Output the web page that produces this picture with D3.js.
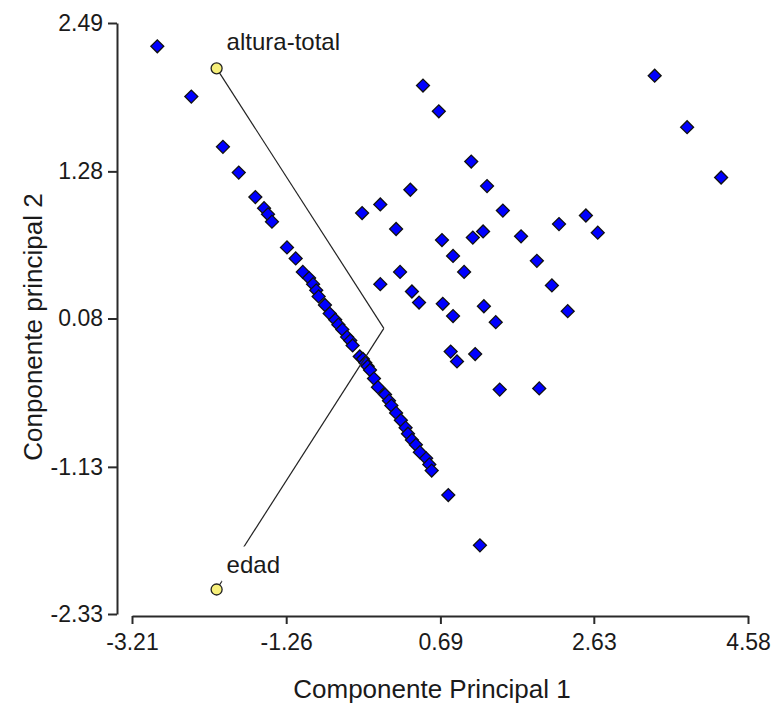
<!DOCTYPE html>
<html>
<head>
<meta charset="utf-8">
<script src="https://cdn.jsdelivr.net/npm/d3@7"></script>
<style>
body{margin:0;background:#fff;}
text{font-family:"Liberation Sans",Arial,sans-serif;fill:#1a1a1a;}
</style>
</head>
<body>
<script>
const w=776;
const h=705;

// scores of the observations on the two components
const pc1=[-2.89,-2.46,-2.06,-1.86,-1.65,-1.54,-1.49,-1.44,-1.25,-1.14,-1.05,-0.97,-0.92,-0.88,-0.85,-0.77,-0.71,-0.64,-0.60,-0.55,-0.49,-0.45,-0.42,-0.33,-0.29,-0.26,-0.23,-0.20,-0.15,-0.10,-0.01,0.04,0.07,0.13,0.19,0.25,0.28,0.33,0.38,0.43,0.51,0.55,0.58,0.79,1.19,
  0.47,0.67,3.40,3.81,4.24,1.08,1.28,0.31,1.48,-0.07,-0.30,2.53,2.19,2.68,0.13,1.71,1.23,1.10,0.71,0.85,1.91,0.18,0.99,-0.07,2.10,0.33,0.42,0.72,1.24,0.85,1.39,2.30,0.82,0.90,1.13,1.44,1.94];
const pc2=[2.30,1.89,1.48,1.27,1.07,0.98,0.93,0.87,0.66,0.57,0.46,0.41,0.36,0.31,0.26,0.19,0.12,0.07,0.03,-0.01,-0.07,-0.10,-0.14,-0.23,-0.25,-0.28,-0.31,-0.34,-0.41,-0.48,-0.54,-0.59,-0.63,-0.69,-0.75,-0.81,-0.86,-0.91,-0.95,-1.01,-1.06,-1.11,-1.16,-1.36,-1.77,
  1.98,1.77,2.06,1.64,1.23,1.36,1.16,1.13,0.96,1.01,0.94,0.92,0.85,0.78,0.81,0.75,0.79,0.74,0.72,0.59,0.55,0.46,0.46,0.36,0.35,0.30,0.21,0.20,0.18,0.10,0.05,0.14,-0.19,-0.27,-0.21,-0.50,-0.49];

// variables (loadings)
const varNames=["altura-total","edad"];
const varPc1=[-2.14,-2.14];
const varPc2=[2.12,-2.13];

const xTicks=[-3.21,-1.26,0.69,2.63,4.58];
const yTicks=[-2.33,-1.13,0.08,1.28,2.49];
const xTitle="Componente Principal 1";
const yTitle="Conponente principal 2";

let svg=d3.select("body")
  .append("svg")
  .attr("width",w)
  .attr("height",h);

let x=d3.scaleLinear()
  .domain([-3.21,4.58])
  .range([132,748]);

let y=d3.scaleLinear()
  .domain([-2.33,2.49])
  .range([614,23]);

// axes
let gx=svg.append("g")
  .attr("transform","translate(0,616)")
  .call(d3.axisBottom(x).tickValues(xTicks).tickFormat(d=>d.toFixed(2)).tickSize(8).tickSizeOuter(0).tickPadding(10));

let gy=svg.append("g")
  .attr("transform","translate(117,0)")
  .call(d3.axisLeft(y).tickValues(yTicks).tickFormat(d=>d.toFixed(2)).tickSize(9).tickSizeOuter(0).tickPadding(5));

[gx,gy].forEach(g=>{
  g.select(".domain").attr("stroke","#2a2a2a").attr("stroke-width",2);
  g.selectAll(".tick line").attr("stroke","#2a2a2a").attr("stroke-width",2);
  g.selectAll(".tick text").attr("font-size",23).attr("font-family","Liberation Sans, Arial, sans-serif").attr("fill","#1a1a1a");
});

svg.append("text")
  .attr("x",432)
  .attr("y",698)
  .attr("text-anchor","middle")
  .attr("font-size",26)
  .text(xTitle);

svg.append("text")
  .attr("transform","translate(42,327) rotate(-90)")
  .attr("text-anchor","middle")
  .attr("font-size",26)
  .text(yTitle);

// observations
let obs=pc1.map((d,i)=>({x:d,y:pc2[i]}));

svg.selectAll("path.obs")
  .data(obs)
  .enter()
  .append("path")
  .attr("class","obs")
  .attr("d",d3.symbol().type(d3.symbolSquare).size(84))
  .attr("transform",d=>"translate("+x(d.x)+","+y(d.y)+") rotate(45)")
  .attr("fill","#0000ff")
  .attr("stroke","#111")
  .attr("stroke-width",1.3);

// variable vectors from the origin
let vars=varNames.map((n,i)=>({name:n,x:varPc1[i],y:varPc2[i]}));

svg.selectAll("line.vec")
  .data(vars)
  .enter()
  .append("line")
  .attr("class","vec")
  .attr("x1",x(0)-2)
  .attr("y1",y(0))
  .attr("x2",d=>x(d.x))
  .attr("y2",d=>y(d.y))
  .attr("stroke","#222")
  .attr("stroke-width",1.2);

let lab=svg.selectAll("g.lab")
  .data(vars)
  .enter()
  .append("g")
  .attr("class","lab");

lab.append("rect")
  .attr("fill","#fff");

lab.append("text")
  .attr("x",d=>x(d.x)+10)
  .attr("y",(d,i)=>y(d.y)-(i==0?18:16))
  .attr("font-size",24)
  .text(d=>d.name);

lab.each(function(){
  let b=d3.select(this).select("text").node().getBBox();
  d3.select(this).select("rect")
    .attr("x",b.x-5).attr("y",b.y-5)
    .attr("width",b.width+10).attr("height",b.height+8);
});

svg.selectAll("circle.var")
  .data(vars)
  .enter()
  .append("circle")
  .attr("class","var")
  .attr("cx",d=>x(d.x))
  .attr("cy",d=>y(d.y))
  .attr("r",5.5)
  .attr("fill","#f7f07a")
  .attr("stroke","#222")
  .attr("stroke-width",1.3);
</script>
</body>
</html>
